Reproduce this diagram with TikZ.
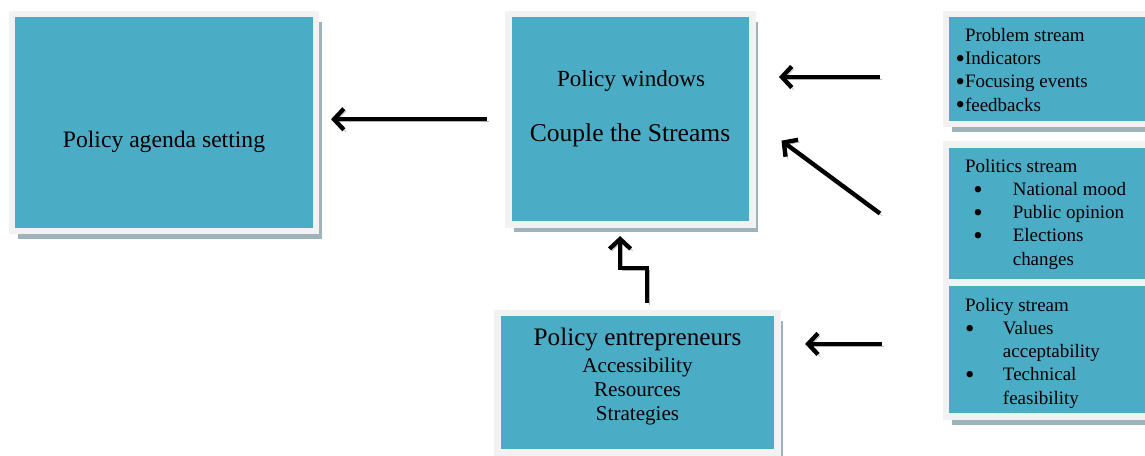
\documentclass[tikz,border=0pt]{standalone}
\usepackage{fontspec}
\setmainfont{Liberation Serif}
\usetikzlibrary{arrows.meta,shadows,positioning}
\definecolor{aqua}{HTML}{4BACC6}
\definecolor{rim}{HTML}{F2F2F2}
\definecolor{shd}{HTML}{9FB3BB}
\tikzstyle{Aarr}=[draw,line width=3.1pt,-{Straight Barb[length=7pt,width=15pt]},
               preaction={draw=gray!60,transform canvas={shift={(1.6pt,-1.6pt)}}}]
\tikzstyle{aS}=[every edge/.style={Aarr}]
\tikzstyle{Abox}=[fill=aqua,draw=rim,line width=4.5pt,inner sep=0,outer sep=0,
               drop shadow={shadow xshift=4.2pt,shadow yshift=-5.7pt,fill=shd,opacity=1}]
\tikzstyle{Atxt}=[inner sep=0,outer sep=0,anchor=base]
\tikzstyle{Alist}=[inner sep=0,outer sep=0,anchor=base west,align=left,
               font=\fontsize{13.5}{16.4}\selectfont]
\newcommand{\Adot}{\smash{\raisebox{-1.8pt}{\fontsize{19}{19}\selectfont\textbullet}}}
\newcommand{\Abul}[3]{\makebox[#2][l]{\hspace{#1}\Adot}#3}
\begin{document}
\begin{tikzpicture}[aS,x=0.025cm,y=-0.025cm]
  \path[use as bounding box,clip] (0,0) rectangle (1145,455);
  % boxes
  \node[Abox,minimum width=7.6cm,minimum height=5.425cm] (agenda) at (164,122.5) {};
  \node[Abox,minimum width=6.1cm,minimum height=5.26cm] (win) at (630.5,119.25) {};
  \node[Abox,minimum width=7cm,minimum height=3.49cm] (ent) at (637.5,382.75) {};
  \node[Abox,anchor=north west,minimum width=5.6cm,minimum height=2.75cm] (prob) at (946,14) {};
  \node[Abox,anchor=north west,minimum width=5.6cm,minimum height=3.45cm] (pol) at (946,144.5) {};
  \node[Abox,anchor=north west,minimum width=5.6cm,minimum height=3.35cm] (polc) at (946,282.5) {};
  % texts (base of a list = its last line)
  \node[Atxt,font=\fontsize{16.8}{20}\selectfont] (agendaT) at (164,147) {Policy agenda setting};
  \node[Atxt,font=\fontsize{16.4}{20}\selectfont] (winT) at (631,86) {Policy windows};
  \node[Atxt,font=\fontsize{18.2}{22}\selectfont] (winS) at (630,141) {Couple the Streams};
  \node[Atxt,font=\fontsize{17.9}{22}\selectfont] (entT) at (637.5,345) {Policy entrepreneurs};
  \node[Atxt,align=center,font=\fontsize{15}{17}\selectfont] (entL) at (637.5,420)
       {Accessibility\\Resources\\Strategies};
  \node[Alist] (probT) at (965,111) {Problem stream\\\llap{\Adot}Indicators\\
       \llap{\Adot}Focusing events\\\llap{\Adot}feedbacks};
  \node[Alist] (polT) at (965,265) {Politics stream\\\Abul{6pt}{34pt}{National mood}\\
       \Abul{6pt}{34pt}{Public opinion}\\\Abul{6pt}{34pt}{Elections}\\\hspace*{34pt}changes};
  \node[Alist] (polcT) at (965,404) {Policy stream\\\Abul{0pt}{27pt}{Values}\\
       \hspace*{27pt}acceptability\\\Abul{0pt}{27pt}{Technical}\\\hspace*{27pt}feasibility};
  % arrows
  \coordinate (probA) at ([xshift=-1.65cm,yshift=-0.2cm]prob.west);
  \coordinate (polcA) at ([xshift=-1.6cm,yshift=0.14cm]polc.west);
  \path (probA) edge[shorten >=0.66cm] (probA -| win.east);
  \path ([xshift=-1.65cm]pol.west) edge[shorten >=0.9cm] (win.east);
  \path (polcA) edge[shorten >=0.69cm] (polcA -| ent.east);
  \path (win.west) edge[shorten <=0.54cm,shorten >=0.375cm] (win.west -| agenda.east);
  \draw[Aarr,shorten <=0.25cm,shorten >=0.29cm] ([xshift=0.24cm]ent.north) -- ++(0,-45)
       -| ([xshift=-0.26cm]win.south);
\end{tikzpicture}
\end{document}
